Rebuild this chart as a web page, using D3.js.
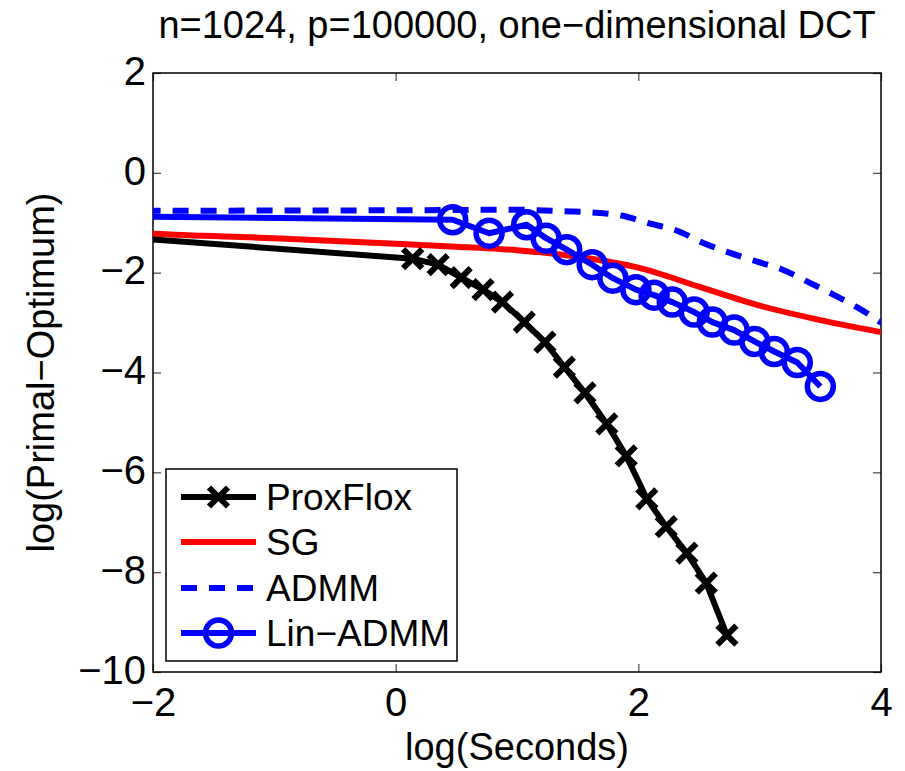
<!DOCTYPE html>
<html>
<head>
<meta charset="utf-8">
<script src="https://cdn.jsdelivr.net/npm/d3@7"></script>
<style>
  body { margin: 0; background: #fff; }
  text { font-family: "Liberation Sans", Arial, Helvetica, sans-serif; }
</style>
</head>
<body>
<svg id="chart" width="905" height="771"></svg>
<script>
// data (log10 seconds, log10 primal - optimum)
const proxX = [-2.3, 0.14, 0.35, 0.54, 0.72, 0.88, 1.06, 1.23, 1.39, 1.56, 1.74, 1.90, 2.07, 2.23, 2.40, 2.56, 2.73];
const proxY = [-1.28, -1.72, -1.84, -2.10, -2.34, -2.59, -2.99, -3.39, -3.89, -4.41, -5.03, -5.67, -6.53, -7.09, -7.62, -8.22, -9.26];

const sgX = [-2.3, -2, -1, 0, 0.5, 1, 1.5, 2, 2.5, 3, 3.5, 4, 4.2];
const sgY = [-1.18, -1.22, -1.31, -1.42, -1.48, -1.55, -1.68, -1.90, -2.28, -2.66, -2.95, -3.19, -3.28];

const admmX = [-2.3, 0, 1, 1.38, 1.66, 1.87, 2.07, 2.32, 2.53, 2.75, 2.98, 3.19, 3.41, 3.64, 3.85, 4.0, 4.1];
const admmY = [-0.76, -0.75, -0.74, -0.77, -0.80, -0.86, -1.00, -1.16, -1.40, -1.60, -1.78, -1.94, -2.20, -2.48, -2.76, -3.0, -3.15];

const linX = [-2.3, 0.47, 0.77, 1.08, 1.24, 1.41, 1.62, 1.79, 1.98, 2.13, 2.28, 2.46, 2.61, 2.79, 2.96, 3.12, 3.31, 3.50];
const linY = [-0.87, -0.94, -1.21, -1.04, -1.31, -1.54, -1.84, -2.11, -2.34, -2.45, -2.59, -2.79, -2.99, -3.15, -3.38, -3.58, -3.80, -4.28];

const xTicks = [-2, 0, 2, 4];
const yTicks = [2, 0, -2, -4, -6, -8, -10];
const legendNames = ["ProxFlox", "SG", "ADMM", "Lin\u2212ADMM"];

const pL = 153, pR = 881, pT = 73, pB = 672;
const svg = d3.select('#chart');

const x = d3.scaleLinear().domain([-2, 4]).range([pL, pR]);
const y = d3.scaleLinear().domain([-10, 2]).range([pB, pT]);

const zip = (a, b) => a.map((v, i) => [v, b[i]]);
const fmt = d => d < 0 ? '\u2212' + Math.abs(d) : String(d);

svg.append('clipPath').attr('id', 'plotClip')
    .append('rect')
    .attr('x', pL).attr('y', pT)
    .attr('width', pR - pL).attr('height', pB - pT);

// axes with inward ticks on all four sides
const tickLen = 8;
const axisStyle = g => {
    g.select('.domain').remove();
    g.selectAll('.tick line').attr('stroke', '#444').attr('stroke-width', 1.2);
    g.selectAll('.tick text').attr('font-size', 40).attr('fill', '#000')
        .attr('font-family', '"Liberation Sans", Arial, sans-serif');
};

svg.append('g').attr('transform', `translate(0,${pB})`)
    .call(d3.axisBottom(x).tickValues(xTicks).tickSizeInner(-tickLen).tickSizeOuter(0).tickPadding(16).tickFormat(fmt))
    .call(axisStyle);
svg.append('g').attr('transform', `translate(0,${pT})`)
    .call(d3.axisTop(x).tickValues(xTicks).tickSizeInner(-tickLen).tickSizeOuter(0).tickFormat(''))
    .call(axisStyle);
svg.append('g').attr('transform', `translate(${pL},0)`)
    .call(d3.axisLeft(y).tickValues(yTicks).tickSizeInner(-tickLen).tickSizeOuter(0).tickPadding(7).tickFormat(fmt))
    .call(axisStyle)
    .call(g => g.selectAll('.tick text').attr('dy', '0.28em'));
svg.append('g').attr('transform', `translate(${pR},0)`)
    .call(d3.axisRight(y).tickValues(yTicks).tickSizeInner(-tickLen).tickSizeOuter(0).tickFormat(''))
    .call(axisStyle);

svg.append('rect')
    .attr('x', pL).attr('y', pT)
    .attr('width', pR - pL).attr('height', pB - pT)
    .attr('fill', 'none').attr('stroke', '#000').attr('stroke-width', 1.5);

// series
const plot = svg.append('g').attr('clip-path', 'url(#plotClip)');
const lineLin = d3.line().x(d => x(d[0])).y(d => y(d[1]));
const lineSmooth = d3.line().x(d => x(d[0])).y(d => y(d[1])).curve(d3.curveMonotoneX);

const lw = 6;
plot.append('path').datum(zip(admmX, admmY))
    .attr('d', lineSmooth).attr('fill', 'none')
    .attr('stroke', '#0000ff').attr('stroke-width', lw).attr('stroke-dasharray', '16,12');

plot.append('path').datum(zip(sgX, sgY))
    .attr('d', lineSmooth).attr('fill', 'none')
    .attr('stroke', '#ff0000').attr('stroke-width', lw);

const proxData = zip(proxX, proxY);
plot.append('path').datum(proxData)
    .attr('d', lineLin).attr('fill', 'none')
    .attr('stroke', '#000').attr('stroke-width', lw).attr('stroke-linejoin', 'round');

const xMark = (g, cx, cy, s) => {
    g.append('path')
        .attr('d', `M${cx - s},${cy - s}L${cx + s},${cy + s}M${cx - s},${cy + s}L${cx + s},${cy - s}`)
        .attr('stroke', '#000').attr('stroke-width', 6).attr('fill', 'none');
};
proxData.forEach(d => xMark(plot, x(d[0]), y(d[1]), 9.5));

const linData = zip(linX, linY);
plot.append('path').datum(linData)
    .attr('d', lineLin).attr('fill', 'none')
    .attr('stroke', '#0000ff').attr('stroke-width', lw).attr('stroke-linejoin', 'round');

plot.selectAll('circle.lin').data(linData).join('circle')
    .attr('class', 'lin')
    .attr('cx', d => x(d[0])).attr('cy', d => y(d[1]))
    .attr('r', 13).attr('fill', 'none')
    .attr('stroke', '#0000ff').attr('stroke-width', 5.5);

// title and axis labels
svg.append('text')
    .attr('x', (pL + pR) / 2).attr('y', 38)
    .attr('text-anchor', 'middle').attr('font-size', 38)
    .text('n=1024, p=100000, one\u2212dimensional DCT');

svg.append('text')
    .attr('x', (pL + pR) / 2).attr('y', 760)
    .attr('text-anchor', 'middle').attr('font-size', 38)
    .text('log(Seconds)');

svg.append('text')
    .attr('transform', `translate(54,${(pT + pB) / 2}) rotate(-90)`)
    .attr('text-anchor', 'middle').attr('font-size', 38)
    .text('log(Primal\u2212Optimum)');

// legend
const leg = svg.append('g');
leg.append('rect')
    .attr('x', 166).attr('y', 469).attr('width', 291).attr('height', 192)
    .attr('fill', '#fff').attr('stroke', '#000').attr('stroke-width', 1.5);

const rowY = [497, 542, 588, 633];
const lx0 = 181, lx1 = 256, lmid = (lx0 + lx1) / 2;
const legStyles = [
    {color: '#000', dash: null},
    {color: '#ff0000', dash: null},
    {color: '#0000ff', dash: '16,12'},
    {color: '#0000ff', dash: null},
];
legendNames.forEach((name, i) => {
    leg.append('line')
        .attr('x1', lx0).attr('x2', lx1).attr('y1', rowY[i]).attr('y2', rowY[i])
        .attr('stroke', legStyles[i].color).attr('stroke-width', lw)
        .attr('stroke-dasharray', legStyles[i].dash);
    leg.append('text')
        .attr('x', 266).attr('y', rowY[i]).attr('dy', '0.36em')
        .attr('font-size', 37).text(name);
});
xMark(leg, lmid, rowY[0], 9.5);
leg.append('circle')
    .attr('cx', lmid).attr('cy', rowY[3]).attr('r', 13)
    .attr('fill', 'none').attr('stroke', '#0000ff').attr('stroke-width', 5.5);
</script>
</body>
</html>
